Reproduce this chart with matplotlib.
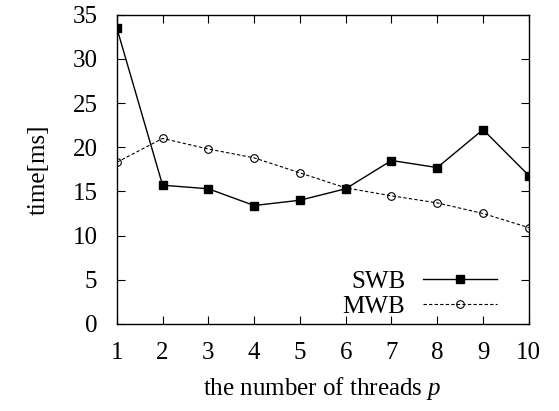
import matplotlib
matplotlib.use('Agg')
import matplotlib.pyplot as plt

# data
threads = [1, 2, 3, 4, 5, 6, 7, 8, 9, 10]
swb = [33.5, 15.7, 15.3, 13.4, 14.0, 15.3, 18.5, 17.7, 22.0, 16.8]
mwb = [18.3, 21.0, 19.8, 18.8, 17.1, 15.4, 14.5, 13.7, 12.5, 10.9]

plt.rcParams['font.family'] = ['Liberation Serif', 'DejaVu Serif']
plt.rcParams['mathtext.fontset'] = 'custom'
plt.rcParams['mathtext.it'] = 'Liberation Serif:italic'

fig = plt.figure(figsize=(5.59, 4.11), dpi=100)
ax = fig.add_axes([0.209, 0.212, 0.737, 0.752])

ax.plot(threads, swb, '-', color='black', lw=1.0, marker='s', ms=6, label='SWB')
ax.plot(threads, mwb, '--', color='black', lw=0.8, dashes=(3, 2), marker='o', ms=5.5,
        mfc='none', mew=0.8, label='MWB')

ax.set_xlim(1, 10)
ax.set_ylim(0, 35)
ax.set_xticks(threads)
ax.set_yticks(range(0, 36, 5))
ax.tick_params(direction='in', top=True, right=True, length=6, labelsize=18)
ax.tick_params(axis='x', pad=13)
ax.tick_params(axis='y', pad=14)
for s in ax.spines.values():
    s.set_linewidth(1.0)

ax.set_xlabel('the number of threads $p$', fontsize=18, labelpad=8)
ax.set_ylabel('time[ms]', fontsize=18, labelpad=16)

leg = ax.legend(loc='lower right', bbox_to_anchor=(0.922, 0.02), frameon=False,
                markerfirst=False, fontsize=18, handlelength=2.95, labelspacing=0.1,
                borderaxespad=0, borderpad=0, handletextpad=0.7)

fig.savefig('out.png', dpi=100)
